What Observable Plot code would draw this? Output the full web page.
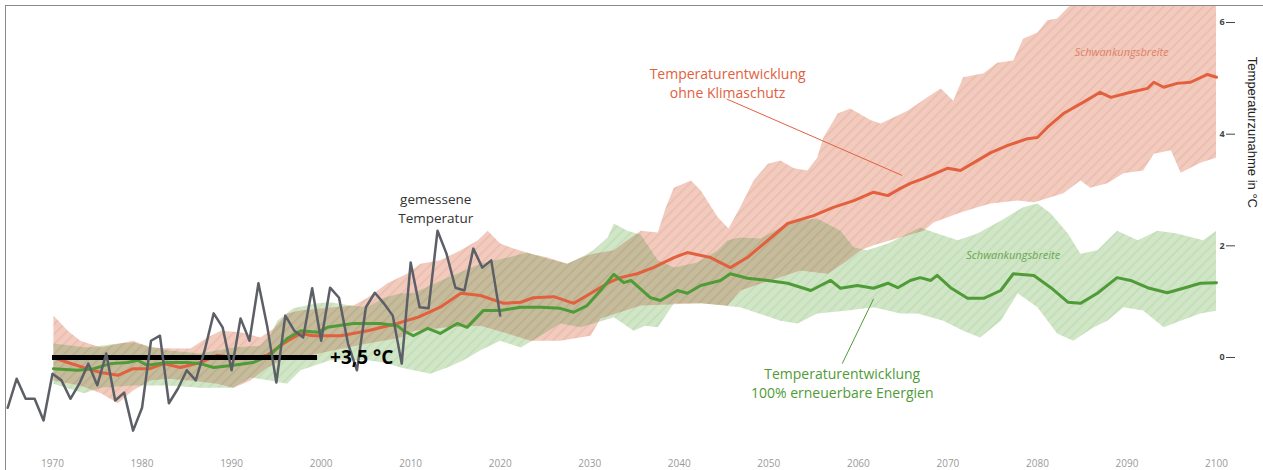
<!DOCTYPE html>
<html><head><meta charset="utf-8">
<script src="https://cdn.jsdelivr.net/npm/d3@7"></script>
<script src="https://cdn.jsdelivr.net/npm/@observablehq/plot@0.6"></script>
<style>
html,body{margin:0;padding:0;background:#fff;}
#wrap{position:relative;width:1263px;height:470px;overflow:hidden;}
#border{position:absolute;left:5px;top:5px;right:0;bottom:0;border-left:1.5px solid #8a8a8a;border-top:1.5px solid #8a8a8a;pointer-events:none;}
</style></head>
<body><div id="wrap"><div id="chart"></div><div id="border"></div></div>
<script>
// ---- Data ----
const xTicks = [1970,1980,1990,2000,2010,2020,2030,2040,2050,2060,2070,2080,2090,2100];
const yTicks = [0,2,4,6];

// gemessene Temperatur (annual)
const grayYears = d3.range(1965, 2021);
const grayValues = [-0.90,-0.38,-0.74,-0.74,-1.13,-0.29,-0.41,-0.74,-0.47,-0.11,-0.50,0.07,-0.77,-0.63,-1.31,-0.90,0.30,0.39,-0.82,-0.56,-0.23,-0.41,0.13,0.79,0.54,-0.23,0.70,0.30,1.33,0.54,-0.45,0.75,0.48,0.36,1.24,0.30,1.25,1.07,0.25,-0.23,0.90,1.16,0.97,0.75,-0.11,1.70,0.90,0.88,2.27,1.86,1.25,1.20,1.95,1.61,1.74,0.75];

// ohne Klimaschutz (mean)
const redYears = [1970.1,1971.7,1973.9,1975.4,1977.3,1979.0,1980.9,1982.4,1984.3,1986.5,1988.4,1990.2,1992.4,1994.0,1995.8,1997.7,1999.1,2001.0,2002.2,2005.2,2008.5,2010.8,2013.3,2015.6,2017.8,2020.4,2022.3,2023.7,2026.0,2028.2,2029.7,2032.0,2033.4,2035.3,2037.1,2039.4,2040.9,2043.5,2045.7,2047.6,2049.9,2052.1,2055.0,2057.2,2059.5,2061.7,2063.3,2064.7,2065.8,2067.3,2070.0,2071.4,2072.9,2074.8,2076.7,2078.9,2080.0,2081.1,2082.9,2085.1,2087.0,2088.2,2090.4,2092.3,2093.0,2094.1,2095.6,2097.1,2099.0,2100.0];
const redValues = [0.00,-0.09,-0.20,-0.27,-0.32,-0.20,-0.20,-0.11,-0.18,-0.09,0.04,0.00,-0.02,0.04,0.25,0.43,0.39,0.39,0.39,0.48,0.61,0.72,0.90,1.15,1.11,0.97,0.99,1.07,1.09,0.97,1.11,1.33,1.43,1.50,1.61,1.79,1.88,1.79,1.61,1.79,2.10,2.40,2.54,2.69,2.81,2.96,2.90,3.03,3.12,3.21,3.39,3.35,3.49,3.67,3.80,3.92,3.94,4.12,4.37,4.57,4.75,4.66,4.75,4.82,4.93,4.84,4.91,4.93,5.07,5.02];

// ohne Klimaschutz (Schwankungsbreite)
const redUpperYears = [1970.1,1971.7,1973.1,1975.4,1979.0,1980.9,1983.5,1985.4,1987.3,1988.8,1991.0,1993.2,1994.7,1996.2,1997.7,2001.4,2003.6,2005.2,2007.4,2009.6,2011.1,2013.3,2015.6,2017.5,2018.6,2020.0,2021.5,2023.4,2025.3,2027.5,2029.0,2030.4,2032.7,2034.2,2035.7,2037.6,2038.5,2039.4,2041.3,2042.4,2044.3,2045.5,2046.8,2048.3,2049.9,2051.3,2052.8,2054.3,2055.4,2056.1,2057.7,2059.1,2061.4,2062.5,2063.9,2065.5,2067.7,2069.2,2070.6,2071.7,2074.0,2075.5,2077.3,2078.4,2080.0,2081.1,2082.2,2083.4,2086.0,2090.0,2095.0,2100.0];
const redUpperValues = [0.75,0.48,0.30,0.18,0.30,0.18,0.16,0.16,0.36,0.48,0.45,0.36,0.52,0.79,0.84,0.90,0.93,1.07,1.33,1.50,1.68,1.74,1.92,2.10,2.27,2.04,1.95,1.86,1.79,1.68,1.79,1.86,1.92,2.10,2.27,2.24,2.69,3.04,3.17,2.99,2.51,2.31,2.69,3.17,3.47,3.53,3.39,3.35,3.58,3.94,4.37,4.46,4.25,4.19,4.30,4.42,4.66,4.82,4.60,5.02,5.09,5.28,5.32,5.71,5.82,6.04,6.07,6.27,6.6,6.8,6.9,7.0];
const redLowerYears = [1970.1,1973.1,1975.4,1977.3,1979.0,1980.9,1982.8,1985.4,1988.4,1990.2,1992.1,1994.0,1995.5,1997.7,2001.4,2005.2,2008.9,2010.3,2014.1,2017.8,2020.8,2023.4,2026.7,2030.1,2031.2,2035.7,2042.4,2045.4,2046.8,2050.2,2053.5,2056.6,2058.8,2060.2,2061.7,2063.6,2067.3,2068.4,2071.1,2073.3,2074.8,2077.8,2079.6,2080.3,2082.9,2084.8,2085.9,2087.8,2089.6,2091.8,2093.0,2094.9,2096.0,2098.2,2100.0];
const redLowerValues = [-0.41,-0.50,-0.64,-0.82,-0.59,-0.41,-0.38,-0.41,-0.47,-0.54,-0.41,-0.18,-0.05,0.00,0.13,0.25,0.36,0.48,0.54,0.57,0.43,0.30,0.30,0.39,0.70,0.93,0.97,0.93,1.20,1.38,1.56,1.50,1.74,1.92,2.01,2.10,2.27,2.42,2.58,2.69,2.76,2.81,2.78,2.81,2.94,3.17,3.04,3.12,3.30,3.35,3.65,3.71,3.31,3.49,3.58];

// 100% erneuerbare Energien (mean)
const greenYears = [1970.1,1972.8,1974.6,1976.5,1978.4,1979.5,1980.6,1982.8,1985.1,1986.5,1988.0,1990.2,1992.4,1994.3,1996.2,1997.7,1999.6,2000.7,2003.6,2006.6,2008.5,2009.2,2010.3,2011.9,2013.3,2015.2,2016.3,2018.1,2020.0,2022.3,2024.5,2026.7,2028.2,2029.7,2031.2,2032.7,2033.8,2034.6,2036.8,2037.9,2039.8,2040.9,2042.4,2044.6,2045.7,2047.6,2049.9,2052.1,2054.7,2056.9,2058.0,2059.9,2061.7,2063.3,2064.4,2065.8,2066.9,2068.1,2068.8,2070.3,2072.2,2074.0,2075.9,2077.3,2079.6,2081.5,2083.4,2084.8,2086.7,2088.9,2090.4,2092.3,2094.5,2096.3,2098.2,2100.0];
const greenValues = [-0.20,-0.23,-0.20,-0.11,-0.09,-0.05,-0.14,-0.09,-0.09,-0.11,-0.18,-0.14,-0.09,0.04,0.34,0.48,0.45,0.54,0.61,0.61,0.57,0.48,0.39,0.52,0.43,0.61,0.54,0.84,0.84,0.90,0.90,0.88,0.81,0.93,1.20,1.49,1.34,1.38,1.07,1.02,1.20,1.15,1.29,1.38,1.50,1.42,1.38,1.33,1.20,1.38,1.24,1.29,1.24,1.33,1.25,1.38,1.43,1.38,1.47,1.25,1.06,1.06,1.20,1.50,1.47,1.25,0.99,0.97,1.15,1.43,1.38,1.25,1.16,1.24,1.33,1.34];

// 100% erneuerbare Energien (Schwankungsbreite)
const greenUpperYears = [1970.1,1973.9,1977.3,1979.0,1982.8,1986.5,1990.2,1993.2,1994.3,1995.1,1996.9,1999.6,2001.0,2003.3,2005.2,2007.0,2008.9,2010.3,2014.1,2017.8,2020.8,2023.0,2025.3,2027.5,2029.0,2030.4,2032.0,2032.7,2034.2,2035.7,2037.6,2039.4,2042.0,2044.3,2045.4,2046.8,2049.1,2051.3,2053.5,2055.4,2058.0,2059.5,2061.0,2063.3,2064.7,2066.9,2068.8,2071.1,2073.3,2075.9,2078.4,2080.0,2081.5,2083.4,2084.8,2086.7,2088.9,2091.2,2093.4,2095.6,2098.5,2100.0];
const greenUpperValues = [0.25,0.18,0.25,0.27,0.13,0.07,0.18,0.21,0.39,0.66,0.88,0.97,0.99,0.93,0.90,1.07,1.15,1.15,1.43,1.68,1.79,1.88,1.77,1.68,1.79,1.92,2.15,2.40,2.27,2.20,1.74,1.61,1.70,1.92,2.10,2.15,2.13,2.33,2.45,2.49,2.27,1.97,1.92,2.04,2.15,2.33,2.22,2.10,2.22,2.45,2.69,2.76,2.58,2.22,1.86,1.92,2.27,2.10,2.27,2.22,2.10,2.27];
const greenLowerYears = [1970.1,1973.5,1975.4,1979.0,1982.8,1986.5,1990.2,1992.1,1994.3,1996.2,1997.7,2001.0,2005.2,2007.0,2008.9,2012.2,2014.1,2015.9,2017.8,2020.0,2022.3,2024.5,2026.7,2029.0,2030.4,2032.7,2034.9,2036.2,2037.6,2039.4,2042.4,2046.8,2051.3,2053.2,2055.4,2058.8,2061.7,2064.7,2066.6,2069.5,2071.7,2073.6,2075.9,2077.8,2080.0,2082.2,2084.0,2086.3,2087.8,2089.6,2091.8,2094.1,2096.0,2098.2,2100.0];
const greenLowerValues = [-0.47,-0.64,-0.54,-0.50,-0.50,-0.54,-0.54,-0.36,-0.41,-0.47,-0.23,-0.05,-0.05,-0.09,-0.18,-0.29,-0.18,-0.05,0.13,0.30,0.18,0.39,0.61,0.54,0.61,0.72,0.48,0.57,0.54,0.97,0.97,0.90,0.66,0.61,0.79,0.84,0.90,0.79,0.79,0.66,0.48,0.36,0.66,1.15,0.90,0.43,0.30,0.54,0.66,0.90,0.84,0.54,0.66,0.79,0.84];

// Reference bar (+3,5 °C)
const baselineYears = [1970, 1999.6];
const baselineValue = 0;

// Text labels
const yLabel = "Temperaturzunahme in °C";
const redTitle = "Temperaturentwicklung\nohne Klimaschutz";
const greenTitle = "Temperaturentwicklung\n100% erneuerbare Energien";
const bandLabel = "Schwankungsbreite";
const measuredLabel = "gemessene\nTemperatur";
const baselineLabel = "+3,5 °C";

// ---- Build ----
const pairs = (xs, ys) => xs.map((x, i) => ({year: x, value: ys[i]}));
const grayData = pairs(grayYears, grayValues);
const redData = pairs(redYears, redValues);
const greenData = pairs(greenYears, greenValues);
const redBand = [...pairs(redUpperYears, redUpperValues), ...pairs(redLowerYears, redLowerValues).reverse()];
const greenBand = [...pairs(greenUpperYears, greenUpperValues), ...pairs(greenLowerYears, greenLowerValues).reverse()];

const RED = "#e2603e", GREEN = "#4f9b37";
const font = "'Open Sans', 'Noto Sans', sans-serif";

const chart = Plot.plot({
  width: 1263, height: 470,
  marginLeft: 5, marginRight: 47, marginTop: 5, marginBottom: 30,
  x: {domain: [1964.75, 2100], axis: null},
  y: {domain: [-1.487, 6.305], axis: null},
  style: {fontFamily: font, background: "transparent", overflow: "visible"},
  marks: [
    Plot.line(greenBand, {x: "year", y: "value", fill: "url(#hatchGreen)", stroke: "none", clip: true}),
    Plot.line(redBand, {x: "year", y: "value", fill: "url(#hatchRed)", stroke: "none", clip: true}),
    // overlap of both ranges: the green range again, clipped to the red range afterwards
    Plot.line(greenBand, {x: "year", y: "value", fill: "url(#hatchOlive)", stroke: "none", clip: true}),
    Plot.line(redData, {x: "year", y: "value", stroke: RED, strokeWidth: 3}),
    Plot.line(greenData, {x: "year", y: "value", stroke: GREEN, strokeWidth: 3}),
    Plot.ruleY([{y: baselineValue, x1: baselineYears[0], x2: baselineYears[1]}], {y: "y", x1: "x1", x2: "x2", stroke: "#000", strokeWidth: 5}),
    Plot.line(grayData, {x: "year", y: "value", stroke: "#5c5f66", strokeWidth: 2.5}),
    Plot.text([{x: 2001.0, y: baselineValue, t: baselineLabel}], {x: "x", y: "y", text: "t", textAnchor: "start", fontSize: 19, fontWeight: "bold", fill: "#000"}),
    // pointers
    Plot.link([{x1: 2045.3, y1: 4.63, x2: 2064.9, y2: 3.26}], {x1: "x1", y1: "y1", x2: "x2", y2: "y2", stroke: RED, strokeWidth: 1}),
    Plot.link([{x1: 2061.7, y1: 1.05, x2: 2058.2, y2: -0.11}], {x1: "x1", y1: "y1", x2: "x2", y2: "y2", stroke: GREEN, strokeWidth: 1}),
    // titles
    Plot.text([{x: 2045.4, y: 4.92, t: redTitle}], {x: "x", y: "y", text: "t", fill: RED, fontSize: 14, lineHeight: 1.36}),
    Plot.text([{x: 2058.2, y: -0.44, t: greenTitle}], {x: "x", y: "y", text: "t", fill: GREEN, fontSize: 14, lineHeight: 1.36}),
    Plot.text([{x: 2089.4, y: 5.46, t: bandLabel}], {x: "x", y: "y", text: "t", fill: "#e08068", fontSize: 11, fontStyle: "italic"}),
    Plot.text([{x: 2077.3, y: 1.83, t: bandLabel}], {x: "x", y: "y", text: "t", fill: "#66a852", fontSize: 11, fontStyle: "italic"}),
    Plot.text([{x: 2012.8, y: 2.68, t: measuredLabel}], {x: "x", y: "y", text: "t", fill: "#333", fontSize: 13.5, lineHeight: 1.4}),
    // axes
    Plot.axisX(xTicks, {tickSize: 0, tickPadding: 19, tickFormat: "d", fontSize: 10, fill: "#9a9a9a", label: null}),
    Plot.axisY(yTicks, {anchor: "right", tickSize: 9, dx: 9, tickFormat: () => "", stroke: "#444", label: null}),
    Plot.axisY(yTicks, {anchor: "right", tickSize: 0, tickPadding: 3, tickFormat: "d", fontSize: 9, fontWeight: "bold", fill: "#444", label: null}),
    Plot.text([yLabel], {frameAnchor: "right", rotate: 90, dx: 36, dy: -15, fontSize: 13, fill: "#222", fontFamily: "'Liberation Sans', Arial, sans-serif"})
  ]
});

// hatch patterns for the ranges
const svg = d3.select(chart.tagName.toLowerCase() === "svg" ? chart : chart.querySelector("svg"));
const defs = svg.insert("defs", ":first-child");
function hatch(id, base, stripe) {
  const p = defs.append("pattern").attr("id", id).attr("patternUnits", "userSpaceOnUse")
    .attr("width", 7).attr("height", 7).attr("patternTransform", "rotate(45)");
  p.append("rect").attr("width", 7).attr("height", 7).attr("fill", base);
  p.append("rect").attr("width", 1.6).attr("height", 7).attr("fill", stripe);
}
hatch("hatchRed", "#f2cbbe", "#eabcad");
hatch("hatchGreen", "#d0e6c6", "#c3ddb8");
hatch("hatchOlive", "#c6bc9c", "#b9ae8e");

// clip the overlap layer to the red range outline
const bandPaths = svg.selectAll("path").nodes().filter(n => {
  const f = n.getAttribute("fill") || (n.parentNode && n.parentNode.getAttribute && n.parentNode.getAttribute("fill")) || "";
  return f.indexOf("url(#hatch") === 0;
});
let redPathNode = null, overlapNode = null;
svg.selectAll("g").nodes().forEach(g => {
  const f = g.getAttribute("fill");
  if (f === "url(#hatchRed)") redPathNode = g.querySelector("path");
  if (f === "url(#hatchOlive)") overlapNode = g.querySelector("path");
});
if (!redPathNode) redPathNode = bandPaths.find(n => (n.getAttribute("fill") || "") === "url(#hatchRed)");
if (!overlapNode) overlapNode = bandPaths.find(n => (n.getAttribute("fill") || "") === "url(#hatchOlive)");
if (redPathNode && overlapNode) {
  defs.append("clipPath").attr("id", "redRangeClip").append("path").attr("d", redPathNode.getAttribute("d"));
  overlapNode.setAttribute("clip-path", "url(#redRangeClip)");
}
document.getElementById("chart").appendChild(chart);
</script>
</body></html>
